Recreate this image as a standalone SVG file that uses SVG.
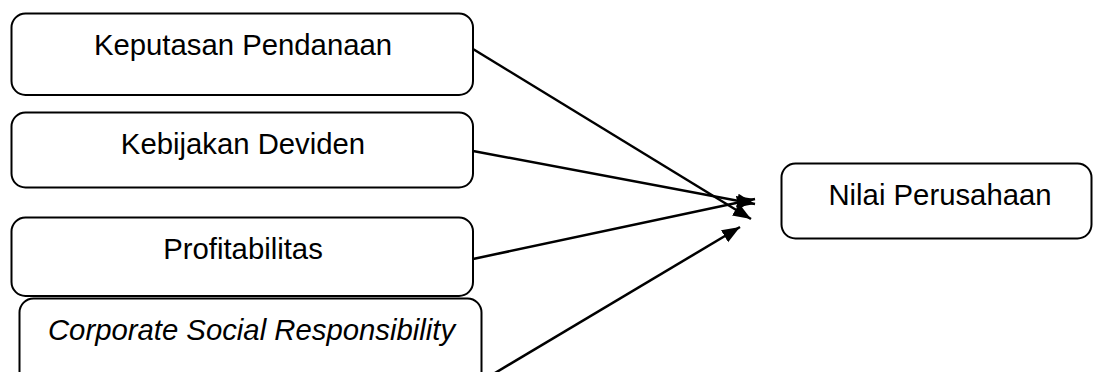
<svg xmlns="http://www.w3.org/2000/svg" width="1093" height="372" viewBox="0 0 1093 372">
<style>
.box{fill:#fff;stroke:#000;stroke-width:2}
.lbl{font-family:"Liberation Sans",Arial,sans-serif;font-size:29.3px;fill:#000;text-anchor:middle}
.conn{stroke:#000;stroke-width:2.5;fill:none;marker-end:url(#ah)}
</style>
<defs>
<marker id="ah" markerUnits="userSpaceOnUse" markerWidth="20" markerHeight="16" refX="18" refY="8" orient="auto">
<path d="M0,1 L18,8 L0,15 Z" fill="#000"/>
</marker>
</defs>
<rect width="1093" height="372" fill="#fff"/>
<g id="n1"><rect class="box" x="11.5" y="13.5" width="461.5" height="81.5" rx="14"/><text class="lbl" x="243" y="55">Keputasan Pendanaan</text></g>
<g id="n2"><rect class="box" x="11.5" y="112.5" width="461.5" height="75" rx="14"/><text class="lbl" x="243" y="154">Kebijakan Deviden</text></g>
<g id="n3"><rect class="box" x="11.5" y="217.5" width="461.5" height="78.5" rx="14"/><text class="lbl" x="243" y="259">Profitabilitas</text></g>
<g id="n4"><rect class="box" x="19.5" y="298.5" width="462" height="100" rx="14"/><text class="lbl" x="251.5" y="340" font-style="italic">Corporate Social Responsibility</text></g>
<g id="n5"><rect class="box" x="781.5" y="163.5" width="310" height="75" rx="14"/><text class="lbl" x="940" y="205">Nilai Perusahaan</text></g>
<g id="connectors">
<line class="conn" x1="473" y1="49" x2="751" y2="219"/>
<line class="conn" x1="473" y1="151" x2="755" y2="204"/>
<line class="conn" x1="473" y1="259" x2="755" y2="199"/>
<line class="conn" x1="490" y1="376" x2="740" y2="227"/>
</g>
</svg>
